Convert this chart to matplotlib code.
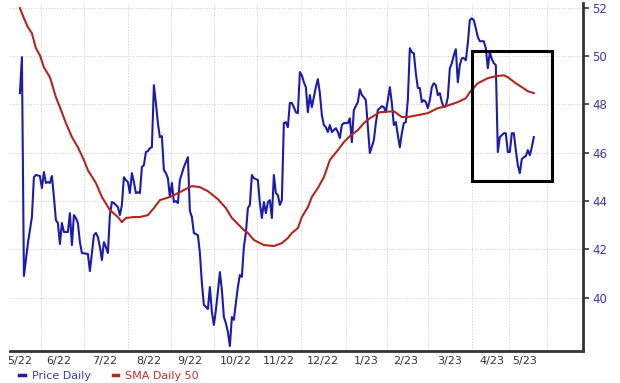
import matplotlib
matplotlib.use('Agg')
import matplotlib.pyplot as plt
import matplotlib.patches as mpatches
from matplotlib.lines import Line2D

BLUE = '#1c1caa'
RED = '#b3261e'
TICK_BLUE = '#3a3aa8'
GRID = '#d6d6d6'

# trading-day index and closing price (turning points of the daily line)
price_days = [0, 1, 2, 4, 5, 6, 7, 8, 10, 11, 12, 13, 14, 15, 16, 17, 18, 19, 20, 21,
              22, 24, 25, 26, 27, 28, 29, 30, 31, 34, 35, 36, 37, 38, 39, 40, 41, 42, 43, 44,
              45, 46, 47, 49, 50, 51, 52, 53, 54, 55, 56, 57, 58, 59, 60, 61, 62, 63, 64, 65,
              66, 67, 68, 69, 70, 71, 72, 73, 74, 75, 76, 77, 78, 79, 80, 82, 84, 85, 86, 87,
              89, 90, 91, 92, 93, 94, 95, 96, 97, 98, 99, 100, 101, 102, 103, 104, 105, 106, 107, 108,
              109, 110, 111, 112, 113, 114, 115, 116, 117, 119, 120, 121, 122, 123, 124, 125, 126, 127, 128, 129,
              130, 131, 132, 133, 134, 135, 136, 137, 138, 139, 140, 141, 142, 143, 144, 145, 146, 147, 148, 149,
              150, 151, 152, 153, 154, 155, 156, 157, 158, 159, 160, 161, 162, 164, 165, 166, 167, 168, 169, 170,
              171, 172, 173, 174, 175, 177, 178, 179, 181, 182, 183, 184, 185, 186, 187, 188, 189, 190, 191, 192,
              193, 194, 195, 196, 197, 198, 199, 200, 201, 202, 203, 204, 205, 206, 207, 208, 209, 210, 211, 212,
              213, 214, 215, 216, 217, 218, 219, 220, 221, 222, 223, 224, 225, 226, 227, 228, 229, 230, 232, 233,
              234, 235, 236, 237, 238, 239, 240, 242, 243, 244, 245, 246, 247, 248, 249, 250, 251, 252, 253, 254,
              255, 256, 257]
price_vals = [48.47, 49.96, 40.90, 42.26, 42.80, 43.34, 44.99, 45.08, 45.04, 44.54, 45.20, 44.75, 44.79, 44.75, 45.04, 44.17, 43.21, 43.09, 42.22, 43.09,
              42.72, 42.72, 43.50, 42.18, 43.42, 43.30, 43.09, 42.30, 41.85, 41.81, 41.10, 41.85, 42.59, 42.68, 42.51, 42.10, 41.56, 42.30, 42.10, 41.85,
              43.42, 43.96, 43.92, 43.75, 43.42, 43.84, 44.99, 44.87, 44.79, 44.33, 45.16, 44.79, 44.33, 44.37, 44.33, 45.41, 45.49, 46.03, 46.07, 46.19,
              46.23, 48.80, 48.06, 47.23, 46.65, 46.69, 45.28, 45.16, 44.95, 44.17, 44.75, 43.96, 44.00, 43.92, 44.87, 45.41, 45.82, 43.59, 43.34, 42.68,
              42.59, 41.85, 40.61, 39.70, 39.62, 39.53, 40.44, 39.41, 38.87, 39.49, 40.24, 41.06, 40.32, 39.20, 38.95, 38.58, 38.00, 39.20, 39.08, 39.78,
              40.44, 40.94, 40.86, 42.10, 42.68, 43.71, 43.84, 45.08, 44.95, 44.87, 43.92, 43.30, 43.96, 43.50, 43.96, 44.04, 43.30, 45.08, 44.33, 44.25,
              43.84, 44.04, 47.23, 47.27, 47.06, 48.06, 48.06, 47.89, 47.68, 47.64, 49.34, 49.21, 48.92, 48.72, 47.68, 48.39, 47.89, 48.30, 48.72, 49.05,
              48.47, 47.56, 47.15, 47.06, 46.86, 47.15, 46.86, 46.94, 47.02, 46.86, 46.61, 47.15, 47.23, 47.23, 47.43, 46.44, 47.77, 47.93, 48.10, 48.63,
              48.39, 48.30, 48.18, 47.06, 45.99, 46.52, 47.23, 47.77, 47.93, 47.89, 47.68, 48.18, 48.72, 48.06, 47.15, 47.27, 46.73, 46.23, 46.81, 47.23,
              47.27, 48.18, 50.33, 50.17, 50.12, 49.30, 48.68, 48.68, 48.10, 48.18, 48.10, 47.85, 48.18, 48.72, 48.88, 48.80, 48.39, 48.47, 48.10, 47.89,
              47.93, 48.30, 49.50, 49.71, 50.04, 50.29, 48.92, 49.63, 49.92, 49.92, 49.83, 50.54, 51.49, 51.57, 51.49, 51.16, 50.79, 50.62, 50.62, 50.33,
              49.50, 50.17, 49.88, 49.71, 49.63, 46.03, 46.65, 46.81, 46.81, 46.03, 46.03, 46.81, 46.81, 46.11, 45.49, 45.16, 45.74, 45.82, 45.86, 46.11,
              45.90, 46.23, 46.65]

# 50-day simple moving average
sma_days = [0, 2, 4, 6, 8, 10, 12, 15, 18, 20, 23, 26, 29, 32, 34, 38, 41, 45, 49, 51,
            53, 57, 60, 64, 67, 70, 75, 79, 84, 86, 90, 94, 99, 103, 106, 109, 112, 114, 117, 122,
            127, 131, 134, 136, 139, 141, 144, 146, 149, 152, 155, 159, 162, 165, 169, 172, 175, 180, 187, 191,
            194, 199, 204, 209, 213, 219, 223, 225, 229, 234, 238, 242, 244, 248, 251, 254, 257]
sma_vals = [51.99, 51.57, 51.20, 50.95, 50.33, 50.04, 49.54, 49.13, 48.30, 47.89, 47.23, 46.65, 46.23, 45.70, 45.28, 44.75, 44.17, 43.63, 43.34, 43.13,
            43.30, 43.34, 43.34, 43.42, 43.71, 44.04, 44.17, 44.33, 44.54, 44.62, 44.58, 44.41, 44.08, 43.71, 43.30, 43.05, 42.80, 42.68, 42.39, 42.18,
            42.14, 42.26, 42.47, 42.68, 42.88, 43.34, 43.75, 44.17, 44.54, 44.99, 45.70, 46.11, 46.44, 46.69, 46.94, 47.23, 47.43, 47.68, 47.72, 47.48,
            47.48, 47.56, 47.64, 47.85, 47.93, 48.10, 48.26, 48.51, 48.88, 49.09, 49.17, 49.21, 49.13, 48.88, 48.72, 48.55, 48.47]

# month boundaries (grid) and month labels (placed mid-month)
month_bounds = [10.5, 32, 54, 75.5, 97, 118.5, 140.5, 163, 183.5, 204, 226, 244.5, 263.5]
label_pos = [0, 19.5, 42.5, 64.5, 85, 108, 129.5, 151.5, 173, 193, 215, 236, 252.5]
month_labels = ['5/22', '6/22', '7/22', '8/22', '9/22', '10/22', '11/22', '12/22',
                '1/23', '2/23', '3/23', '4/23', '5/23']
y_ticks = [40, 42, 44, 46, 48, 50, 52]

# highlight box around the April/May drop
box_x0, box_x1 = 226, 266
box_y0, box_y1 = 44.83, 50.21

fig = plt.figure(figsize=(6.2, 3.83), dpi=100)
ax = fig.add_axes([0.016, 0.084, 0.924, 0.908])

ax.plot(price_days, price_vals, color=BLUE, lw=1.5, label='Price Daily', zorder=3)
ax.plot(sma_days, sma_vals, color=RED, lw=1.5, label='SMA Daily 50', zorder=3)

ax.add_patch(mpatches.Rectangle((box_x0, box_y0), box_x1 - box_x0, box_y1 - box_y0,
                                fill=False, edgecolor='black', lw=2.2, zorder=4))

ax.set_xlim(-5, 281.5)
ax.set_ylim(37.8, 52.2)

ax.set_xticks(month_bounds)
ax.set_xticklabels([])
ax.set_xticks(label_pos, minor=True)
ax.set_xticklabels(month_labels, minor=True, fontsize=8, color='#333333')
ax.tick_params(axis='x', which='major', length=0)
ax.tick_params(axis='x', which='minor', length=0, pad=4)

ax.yaxis.tick_right()
ax.set_yticks(y_ticks)
ax.tick_params(axis='y', length=4, width=1.2, color='#333333', labelsize=8.5,
               labelcolor=TICK_BLUE, pad=3)

ax.grid(True, which='major', color=GRID, linestyle=(0, (1.5, 1.5)), lw=0.7)
for s in ['left', 'top']:
    ax.spines[s].set_visible(False)
for s in ['right', 'bottom']:
    ax.spines[s].set_color('#333333')
    ax.spines[s].set_linewidth(2)

handles = [Line2D([], [], color=BLUE, lw=2.5), Line2D([], [], color=RED, lw=2.5)]
fig.legend(handles, ['Price Daily', 'SMA Daily 50'], loc='lower left',
           bbox_to_anchor=(0.015, -0.02), ncol=2, frameon=False, fontsize=8,
           handlelength=0.5, handletextpad=0.6, columnspacing=2.0,
           labelcolor=['#3a3ab8', '#c03030'])

fig.savefig('out.png', dpi=100)
